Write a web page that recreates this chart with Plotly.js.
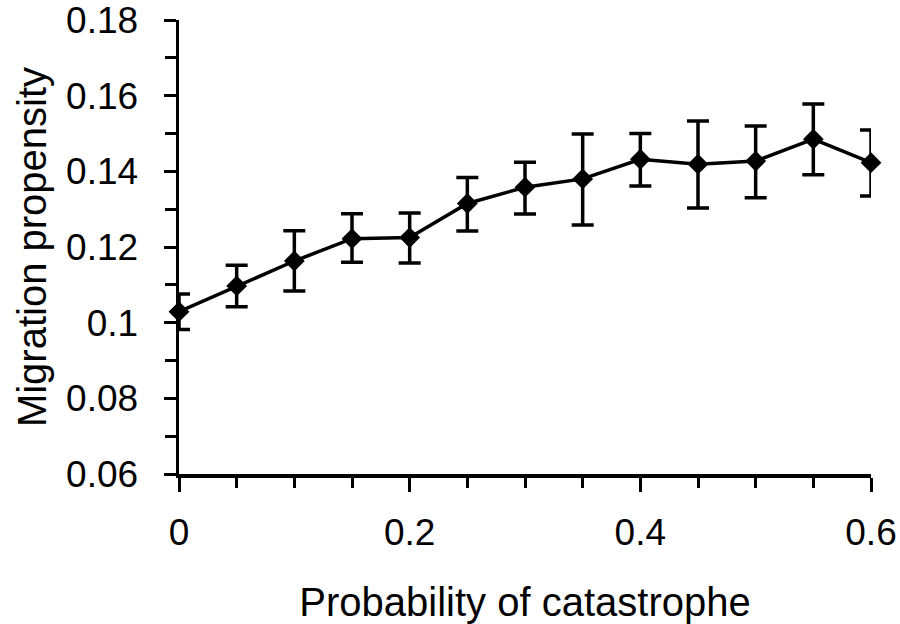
<!DOCTYPE html>
<html>
<head>
<meta charset="utf-8">
<script src="https://cdn.plot.ly/plotly-3.0.1.min.js"></script>
<style>html,body{margin:0;padding:0;background:#fff;}#chart{width:900px;height:624px;}</style>
</head>
<body>
<div id="chart"></div>
<script>
const catastropheProb = [0, 0.05, 0.1, 0.15, 0.2, 0.25, 0.3, 0.35, 0.4, 0.45, 0.5, 0.55, 0.6];
const migrationMean = [0.1029, 0.1097, 0.1163, 0.1222, 0.1225, 0.1315, 0.1358, 0.1380, 0.1432, 0.1419, 0.1427, 0.1485, 0.1423];
const errorUpper = [0.1076, 0.1152, 0.1243, 0.1288, 0.1290, 0.1384, 0.1424, 0.1499, 0.1500, 0.1533, 0.1520, 0.1578, 0.1509];
const errorLower = [0.0982, 0.1042, 0.1084, 0.1160, 0.1158, 0.1242, 0.1287, 0.1258, 0.1361, 0.1303, 0.1330, 0.1391, 0.1335];
const xTickVals = [0, 0.2, 0.4, 0.6];
const xTickText = ['0', '0.2', '0.4', '0.6'];
const yTickVals = [0.06, 0.08, 0.1, 0.12, 0.14, 0.16, 0.18];
const yTickText = ['0.06', '0.08', '0.1', '0.12', '0.14', '0.16', '0.18'];

const plus = migrationMean.map((m, i) => errorUpper[i] - m);
const minus = migrationMean.map((m, i) => m - errorLower[i]);

const FONT = 'Liberation Sans, Arial, sans-serif';

const trace = {
  x: catastropheProb,
  y: migrationMean,
  type: 'scatter',
  mode: 'lines+markers',
  line: {color: '#000', width: 3.5},
  marker: {symbol: 'diamond', size: 16, color: '#000'},
  error_y: {type: 'data', symmetric: false, array: plus, arrayminus: minus,
            color: '#000', thickness: 3.5, width: 11},
  cliponaxis: false,
  showlegend: false
};

const layout = {
  width: 900, height: 624,
  margin: {l: 179, r: 29, t: 20, b: 150},
  paper_bgcolor: '#fff', plot_bgcolor: '#fff',
  font: {family: FONT, color: '#000', size: 37},
  xaxis: {
    range: [0, 0.6],
    tickvals: xTickVals, ticktext: xTickText,
    ticks: 'outside', ticklen: 14, tickwidth: 3, tickcolor: '#000',
    minor: {dtick: 0.05, tick0: 0, ticks: 'outside', ticklen: 10, tickwidth: 3, tickcolor: '#000'},
    showline: true, linecolor: '#000', linewidth: 3.5,
    showgrid: false, zeroline: false,
    tickfont: {family: FONT, size: 37, color: '#000'},
    ticklabelstandoff: 9,
    ticklabeloverflow: 'allow',
    title: {text: 'Probability of catastrophe', font: {family: FONT, size: 40, color: '#000'}, standoff: 41}
  },
  yaxis: {
    range: [0.06, 0.18],
    tickvals: yTickVals, ticktext: yTickText,
    ticks: 'outside', ticklen: 12, tickwidth: 3, tickcolor: '#000',
    minor: {dtick: 0.01, tick0: 0.06, ticks: 'outside', ticklen: 11, tickwidth: 3, tickcolor: '#000'},
    showline: true, linecolor: '#000', linewidth: 3.5,
    showgrid: false, zeroline: false,
    tickfont: {family: FONT, size: 37, color: '#000'},
    ticklabelstandoff: 18,
    ticklabeloverflow: 'allow',
    title: {text: 'Migration propensity', font: {family: FONT, size: 40, color: '#000'}, standoff: 8}
  }
};

Plotly.newPlot('chart', [trace], layout, {displayModeBar: false, staticPlot: true});
</script>
</body>
</html>
